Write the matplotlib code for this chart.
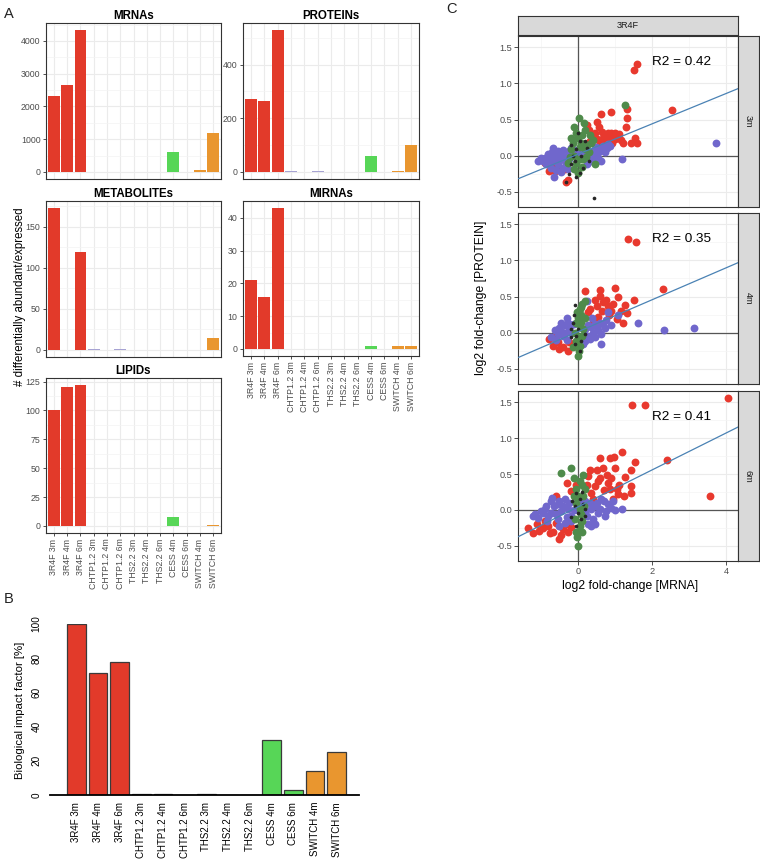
import matplotlib
matplotlib.use('Agg')
import matplotlib.pyplot as plt
import numpy as np

plt.rcParams['font.family'] = ['Liberation Sans', 'DejaVu Sans']

# ---------------- data ----------------
groups = ["3R4F 3m", "3R4F 4m", "3R4F 6m", "CHTP1.2 3m", "CHTP1.2 4m", "CHTP1.2 6m",
          "THS2.2 3m", "THS2.2 4m", "THS2.2 6m", "CESS 4m", "CESS 6m", "SWITCH 4m", "SWITCH 6m"]
brand_colors = {"3R4F": "#E23A2A", "CHTP1.2": "#A7A3D3", "THS2.2": "#A7A3D3",
                "CESS": "#57D657", "SWITCH": "#E9962F"}

mrnas = [2320, 2650, 4330, 8, 5, 10, 3, 2, 4, 608, 2, 70, 1195]
proteins = [271, 266, 529, 2, 1, 2, 1, 1, 1, 60, 1, 3, 100]
metabolites = [173, 0, 119, 0.8, 0.3, 0.6, 0.3, 0.2, 0.2, 0, 0, 0, 15]
mirnas = [21, 16, 43, 0.1, 0.1, 0.1, 0.1, 0.1, 0.1, 1, 0, 1, 1]
lipids = [100, 120, 122, 0.3, 0.3, 0.3, 0.2, 0.2, 0.2, 8, 0, 0, 1]
impact = [100, 71.3, 77.5, 0.3, 0.6, 0.1, 0.3, 0.1, 0.2, 32, 2.8, 13.9, 25]

timepoints = ["3m", "4m", "6m"]
r2_labels = ["R2 = 0.42", "R2 = 0.35", "R2 = 0.41"]
fit_slope = [0.21, 0.221, 0.257]
fit_intercept = [0.02, 0.013, 0.043]

red_3m = [(1.58, 1.27), (1.52, 1.18), (2.54, 0.63), (1.32, 0.64), (1.31, 0.52), (1.29, 0.40),
          (0.90, 0.60), (0.63, 0.57), (0.51, 0.47), (0.57, 0.40), (0.25, 0.42), (0.81, 0.31),
          (0.95, 0.29), (1.04, 0.27), (0.74, 0.28), (0.86, 0.25), (0.99, 0.23), (1.53, 0.25),
          (1.58, 0.17), (1.44, 0.17), (1.22, 0.17), (0.41, 0.27), (0.50, 0.23), (0.32, 0.20),
          (0.59, 0.18), (-0.77, -0.21), (-0.63, -0.21), (-0.90, -0.10), (-0.27, -0.34),
          (-0.32, -0.36), (-0.36, -0.19), (0.70, 0.20), (0.88, 0.32), (1.10, 0.30), (0.65, 0.33),
          (0.78, 0.22), (0.92, 0.18), (1.00, 0.31), (0.84, 0.29), (0.68, 0.24), (1.15, 0.22),
          (0.45, 0.32), (0.30, 0.35), (-0.55, -0.15), (-0.70, -0.15)]
purple_3m = [(3.73, 0.17), (1.20, -0.04), (-1.08, -0.07), (-0.68, 0.11), (-0.65, -0.30),
             (-0.81, 0.02), (-0.72, -0.05), (-0.59, 0.0), (-0.45, 0.04), (-0.36, -0.03),
             (-0.54, -0.12), (-0.86, -0.12), (-0.23, 0.06), (-0.18, 0.11), (0.27, 0.06),
             (0.45, 0.09), (0.59, 0.06), (0.68, 0.13), (0.77, 0.11), (0.18, 0.0), (0.36, 0.0),
             (0.54, -0.03), (0.63, -0.07), (0.32, -0.07), (-0.27, -0.19), (-0.41, -0.17),
             (-0.99, -0.03), (-0.72, -0.17), (0.86, 0.13), (-0.50, -0.08), (-0.30, 0.0),
             (0.10, 0.05), (0.40, 0.03), (-0.95, -0.08), (-0.88, -0.03), (-0.78, -0.10),
             (-0.70, 0.05), (-0.62, -0.08), (-0.55, 0.06), (-0.48, -0.02), (-0.40, 0.08),
             (-0.33, -0.10), (-0.25, -0.05), (-0.15, 0.02), (-0.05, 0.08), (0.05, -0.02),
             (0.12, 0.10), (0.22, 0.12), (0.30, 0.04), (0.48, 0.12), (0.52, 0.0), (0.72, 0.05),
             (0.80, 0.16), (-0.60, -0.20), (-0.45, -0.22), (0.25, -0.12), (0.45, -0.05)]
green_3m = [(1.26, 0.70), (0.03, 0.52), (0.18, 0.36), (-0.05, 0.32), (-0.14, 0.18), (0.09, 0.18),
            (0.36, 0.18), (0.0, 0.25), (-0.18, 0.09), (0.18, 0.09), (-0.05, -0.10), (0.0, -0.24),
            (0.45, -0.12), (-0.27, -0.10), (0.32, 0.29), (0.14, -0.05), (0.10, -0.15), (-0.10, 0.0),
            (-0.20, 0.25), (-0.10, 0.40), (0.05, 0.12), (0.12, 0.28), (0.25, 0.15), (-0.22, -0.02),
            (0.22, -0.02), (0.05, -0.05), (-0.12, -0.18), (0.30, 0.05), (0.40, 0.22), (0.15, 0.45)]
black_3m = [(0.42, -0.59), (-0.05, -0.30), (0.05, -0.24), (-0.18, -0.12), (0.09, 0.0),
            (-0.05, 0.09), (0.18, 0.20), (0.0, 0.32), (-0.32, -0.37), (-0.09, -0.07),
            (0.14, -0.17), (-0.14, 0.0), (-0.20, 0.15), (0.25, 0.10), (-0.25, -0.25),
            (0.30, -0.08), (0.05, 0.20)]

red_4m = [(1.36, 1.29), (1.57, 1.25), (2.30, 0.61), (0.18, 0.58), (0.59, 0.59), (0.99, 0.62),
          (1.08, 0.49), (1.50, 0.45), (1.28, 0.38), (1.33, 0.27), (0.59, 0.51), (0.68, 0.42),
          (0.81, 0.37), (0.50, 0.37), (0.32, 0.33), (0.27, 0.28), (0.90, 0.30), (1.04, 0.19),
          (1.22, 0.14), (0.54, 0.21), (0.41, 0.17), (-0.77, -0.09), (-0.54, -0.13),
          (-0.50, -0.22), (-0.23, -0.13), (-0.27, -0.25), (-0.68, -0.18), (0.75, 0.45),
          (0.85, 0.25), (0.45, 0.45), (0.65, 0.30), (0.35, 0.10), (1.15, 0.30), (-0.40, -0.20),
          (-0.60, -0.05), (0.95, 0.40)]
purple_4m = [(3.14, 0.07), (2.32, 0.04), (1.62, 0.13), (0.63, -0.15), (0.23, 0.44),
             (-0.63, 0.03), (-0.50, 0.07), (-0.36, 0.10), (-0.27, 0.14), (-0.41, -0.04),
             (-0.18, 0.0), (0.27, 0.10), (0.45, 0.12), (0.59, 0.14), (0.72, 0.07), (0.81, 0.28),
             (1.08, 0.24), (0.41, 0.0), (0.32, -0.09), (0.14, -0.16), (-0.72, -0.06),
             (0.54, 0.03), (0.63, -0.02), (-0.30, 0.20), (0.90, 0.10), (-0.55, -0.02),
             (-0.45, 0.02), (-0.35, 0.0), (-0.25, 0.05), (-0.30, -0.10), (-0.20, 0.10),
             (-0.10, 0.12), (0.20, 0.05), (0.35, 0.08), (0.50, 0.08), (0.68, 0.12), (0.25, -0.05),
             (0.45, -0.06), (0.10, -0.08), (-0.45, 0.14), (-0.60, -0.10), (0.75, 0.18),
             (0.38, 0.20), (0.20, -0.12)]
green_4m = [(0.18, 0.44), (0.05, 0.33), (0.09, 0.24), (-0.05, 0.14), (0.05, 0.10), (-0.09, 0.0),
            (0.0, -0.09), (0.05, -0.18), (0.0, -0.32), (-0.14, -0.20), (0.14, 0.05), (0.12, 0.40),
            (0.0, 0.20), (-0.03, 0.28), (0.08, 0.15), (-0.05, -0.12), (0.03, -0.25),
            (0.10, -0.05), (0.08, 0.35), (0.20, 0.20)]
black_4m = [(-0.09, 0.38), (-0.14, 0.14), (0.0, 0.05), (-0.05, -0.04), (-0.18, -0.06),
            (0.09, -0.11), (-0.09, -0.16), (0.18, -0.02), (-0.20, 0.05), (0.05, -0.25),
            (-0.10, 0.25)]

red_6m = [(4.05, 1.56), (1.46, 1.46), (1.80, 1.46), (2.40, 0.70), (3.57, 0.19), (1.18, 0.81),
          (0.96, 0.73), (0.86, 0.72), (0.60, 0.72), (1.54, 0.67), (1.42, 0.55), (1.28, 0.46),
          (1.44, 0.33), (1.44, 0.24), (1.24, 0.19), (1.08, 0.22), (1.04, 0.29), (0.99, 0.59),
          (0.77, 0.49), (0.68, 0.59), (0.32, 0.56), (0.27, 0.47), (0.54, 0.40), (0.45, 0.33),
          (0.81, 0.38), (0.86, 0.29), (0.36, 0.24), (-0.29, 0.38), (-0.18, 0.26), (-0.59, 0.19),
          (-1.35, -0.25), (-1.22, -0.32), (-1.04, -0.29), (-0.81, -0.22), (-0.68, -0.31),
          (-0.50, -0.41), (-0.41, -0.27), (-0.27, -0.31), (-0.90, -0.15), (-0.59, -0.18),
          (-0.18, -0.24), (0.60, 0.45), (0.50, 0.55), (0.90, 0.45), (1.10, 0.35), (0.70, 0.28),
          (0.95, 0.15), (0.40, 0.15), (-0.45, -0.35), (-0.30, -0.20), (-0.95, -0.25),
          (-1.10, -0.20), (-0.75, -0.32), (-0.05, 0.35), (0.25, 0.35)]
purple_6m = [(1.19, 0.02), (0.72, -0.08), (-1.22, -0.08), (-0.72, 0.12), (-0.86, 0.06),
             (-0.54, 0.08), (-0.45, -0.01), (-0.36, 0.15), (-0.72, -0.04), (-1.08, -0.11),
             (-0.27, 0.01), (-0.18, -0.08), (-0.36, -0.18), (0.32, 0.10), (0.45, 0.06),
             (0.63, 0.15), (0.81, 0.08), (0.90, 0.03), (0.54, -0.04), (0.41, -0.13),
             (0.27, -0.20), (0.18, -0.01), (-0.54, -0.12), (-0.95, -0.04), (-1.15, -0.05),
             (-1.00, -0.02), (-0.90, 0.02), (-0.80, -0.08), (-0.65, 0.05), (-0.60, -0.05),
             (-0.50, 0.12), (-0.40, 0.05), (-0.30, -0.10), (-0.25, 0.10), (-0.20, -0.15),
             (-0.10, 0.0), (0.10, 0.08), (0.20, 0.12), (0.25, -0.08), (0.35, 0.02), (0.50, 0.10),
             (0.60, 0.02), (0.70, 0.12), (0.75, -0.02), (0.35, -0.22), (0.45, -0.20),
             (-0.50, -0.22), (-0.70, 0.16), (-0.85, -0.15), (0.95, 0.12), (1.00, 0.0)]
green_6m = [(-0.45, 0.52), (-0.18, 0.58), (0.14, 0.49), (0.05, 0.40), (-0.05, 0.29), (0.14, 0.19),
            (-0.05, 0.10), (0.05, 0.01), (-0.09, -0.13), (0.05, -0.22), (-0.02, -0.38),
            (0.0, -0.50), (0.18, 0.29), (0.0, 0.20), (0.10, 0.35), (-0.10, 0.45), (0.08, -0.05),
            (-0.05, -0.30), (0.10, -0.30), (0.15, 0.05), (-0.12, 0.20), (0.10, -0.15)]
black_6m = [(-0.05, 0.24), (0.05, 0.15), (-0.09, 0.06), (0.14, 0.08), (0.0, -0.04),
            (0.09, -0.13), (-0.05, -0.22), (0.18, -0.08), (-0.15, 0.12), (0.10, 0.25),
            (-0.20, -0.10), (0.20, 0.02)]

scatter_sets = [
    [red_3m, purple_3m, green_3m, black_3m],
    [red_4m, purple_4m, green_4m, black_4m],
    [red_6m, purple_6m, green_6m, black_6m],
]
pt_colors = ["#E8392E", "#7067CC", "#4F8B4B", "#262626"]
pt_sizes = [32, 32, 32, 7]

# ---------------- figure ----------------
W, H = 760, 860
fig = plt.figure(figsize=(W / 100, H / 100), dpi=100)


def px_axes(l, t, r, b):
    return fig.add_axes([l / W, 1 - b / H, (r - l) / W, (b - t) / H])


bar_colors = [brand_colors[g.split()[0]] for g in groups]
TICKC = '#4D4D4D'
GRID = '#EBEBEB'


def facet(rect, vals, title, major, minor, show_x):
    ax = px_axes(*rect)
    x = np.arange(1, len(groups) + 1)
    vmax = max(vals)
    ax.set_xlim(0.4, len(groups) + 0.6)
    ax.set_ylim(-0.05 * vmax, 1.05 * vmax)
    for v in x:
        ax.axvline(v, color=GRID, lw=0.8, zorder=0)
    ax.set_yticks(major)
    ax.set_yticks(minor, minor=True)
    ax.grid(axis='y', which='major', color=GRID, lw=0.8, zorder=0)
    ax.grid(axis='y', which='minor', color='#F3F3F3', lw=0.5, zorder=0)
    ax.set_axisbelow(True)
    ax.bar(x, vals, width=0.9, color=bar_colors, zorder=2)
    ax.tick_params(axis='y', which='major', labelsize=6.3, labelcolor=TICKC, color='#333333',
                   length=2.5, width=0.6, pad=1.5)
    ax.tick_params(axis='y', which='minor', length=0)
    if show_x:
        ax.set_xticks(x)
        ax.set_xticklabels(groups, rotation=90, fontsize=6.3, color=TICKC)
        ax.tick_params(axis='x', color='#333333', length=2.5, width=0.6, pad=1.5)
    else:
        ax.set_xticks([])
    for s in ax.spines.values():
        s.set_color('#333333')
        s.set_linewidth(0.8)
    ax.set_title(title, fontsize=8.3, fontweight='bold', pad=3)
    return ax


facet((46, 23, 221, 179), mrnas, "MRNAs", [0, 1000, 2000, 3000, 4000],
      [500, 1500, 2500, 3500, 4500], False)
facet((243, 23, 419, 179), proteins, "PROTEINs", [0, 200, 400], [100, 300, 500], False)
facet((46, 201, 221, 357), metabolites, "METABOLITEs", [0, 50, 100, 150],
      [25, 75, 125, 175], False)
facet((243, 201, 419, 356), mirnas, "MIRNAs", [0, 10, 20, 30, 40], [5, 15, 25, 35, 45], True)
facet((46, 378, 221, 533), lipids, "LIPIDs", [0, 25, 50, 75, 100, 125],
      [12.5, 37.5, 62.5, 87.5, 112.5], True)

fig.text(20 / W, 1 - 297 / H, "# differentially abundant/expressed", rotation=90,
         ha='center', va='center', fontsize=8.3)

# ---------------- panel B ----------------
axb = px_axes(50, 624, 359, 795)
xb = np.arange(len(groups))
axb.bar(xb, impact, width=0.87, color=bar_colors, edgecolor='#3A3A3A', linewidth=0.9,
        zorder=2)
axb.set_xlim(-1.21, 13.03)
axb.set_ylim(0, 100)
for side in ['top', 'right', 'left']:
    axb.spines[side].set_visible(False)
axb.spines['bottom'].set_color('black')
axb.spines['bottom'].set_linewidth(1.3)
axb.set_yticks([0, 20, 40, 60, 80, 100])
axb.set_yticklabels(["0", "20", "40", "60", "80", "100"], rotation=90, va='center',
                    fontsize=7.2)
axb.tick_params(axis='y', length=0, pad=6)
axb.set_xticks(xb)
axb.set_xticklabels(groups, rotation=90, fontsize=7.0)
axb.tick_params(axis='x', length=0, pad=5)
fig.text(20 / W, 1 - 710 / H, "Biological impact factor [%]", rotation=90,
         ha='center', va='center', fontsize=8.2)

# ---------------- panel C ----------------
XL = (-1.62, 4.32)
YL = (-0.71, 1.655)
panel_rows = [(36, 207), (213, 384), (391, 561)]
CL, CR = 518, 738
for i, (t, b) in enumerate(panel_rows):
    ax = px_axes(CL, t, CR, b)
    ax.set_xlim(*XL)
    ax.set_ylim(*YL)
    ax.set_xticks([0, 2, 4])
    ax.set_xticks([-1, 1, 3], minor=True)
    ax.set_yticks([-0.5, 0.0, 0.5, 1.0, 1.5])
    ax.set_yticks([-0.25, 0.25, 0.75, 1.25], minor=True)
    ax.grid(which='major', color=GRID, lw=0.8, zorder=0)
    ax.grid(which='minor', color='#F4F4F4', lw=0.5, zorder=0)
    ax.set_axisbelow(True)
    ax.axvline(0, color='#555555', lw=0.9, zorder=1)
    ax.axhline(0, color='#555555', lw=0.9, zorder=1)
    for pts, c, s in zip(scatter_sets[i], pt_colors, pt_sizes):
        arr = np.array(pts)
        ax.scatter(arr[:, 0], arr[:, 1], s=s, color=c, linewidths=0, zorder=3)
    xs = np.array(XL)
    ax.plot(xs, fit_intercept[i] + fit_slope[i] * xs, color='#4A82B4', lw=0.9, zorder=4)
    ax.text(2.8, 1.3, r2_labels[i], ha='center', va='center', fontsize=9.7, zorder=5)
    ax.set_yticklabels(["-0.5", "0.0", "0.5", "1.0", "1.5"])
    ax.tick_params(axis='both', which='major', labelsize=6.6, labelcolor=TICKC,
                   color='#333333', length=2.8, width=0.6, pad=1.5)
    ax.tick_params(which='minor', length=0)
    if i < 2:
        ax.tick_params(axis='x', which='both', length=0, labelbottom=False)
    for s_ in ax.spines.values():
        s_.set_color('#333333')
        s_.set_linewidth(0.8)
    # right strip
    st = px_axes(CR, t, 759, b)
    st.set_facecolor('#D9D9D9')
    st.set_xticks([])
    st.set_yticks([])
    for s_ in st.spines.values():
        s_.set_color('#333333')
        s_.set_linewidth(0.8)
    st.text(0.5, 0.5, timepoints[i], rotation=-90, ha='center', va='center',
            fontsize=6.6, color='#1A1A1A', transform=st.transAxes)

top = px_axes(CL, 16, CR, 35)
top.set_facecolor('#D9D9D9')
top.set_xticks([])
top.set_yticks([])
for s_ in top.spines.values():
    s_.set_color('#333333')
    s_.set_linewidth(0.8)
top.text(0.5, 0.5, "3R4F", ha='center', va='center', fontsize=6.6, color='#1A1A1A',
         transform=top.transAxes)

fig.text(481 / W, 1 - 298 / H, "log2 fold-change [PROTEIN]", rotation=90,
         ha='center', va='center', fontsize=8.7)
fig.text(630 / W, 1 - 586 / H, "log2 fold-change [MRNA]", ha='center', va='center',
         fontsize=8.7)

# panel letters
fig.text(4 / W, 1 - 14 / H, "A", fontsize=10.5, va='center', ha='left', color='#222222')
fig.text(4 / W, 1 - 599 / H, "B", fontsize=10.5, va='center', ha='left', color='#222222')
fig.text(446 / W, 1 - 9 / H, "C", fontsize=10.5, va='center', ha='left', color='#222222')

fig.savefig("out.png", dpi=100, facecolor='white')
